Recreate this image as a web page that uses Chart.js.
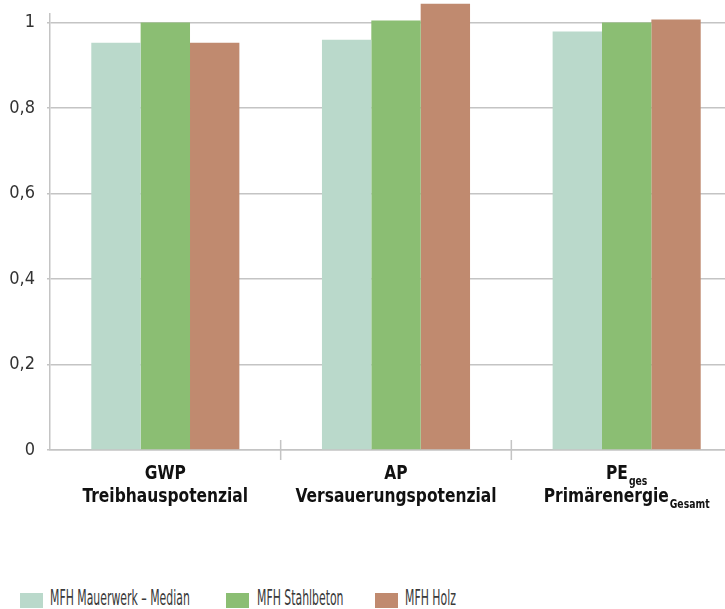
<!DOCTYPE html>
<html>
<head>
<meta charset="utf-8">
<script src="https://cdn.jsdelivr.net/npm/chart.js@4"></script>
<style>
  html, body { margin: 0; padding: 0; background: #fff; overflow: hidden; }
  #wrap { position: absolute; left: 0; top: 0; width: 745px; height: 540px; }
  #legend { position: absolute; left: 0; top: 587px; width: 725px; height: 22px;
            font-family: 'DejaVu Sans Condensed', sans-serif;
            font-size: 22px; color: #3a3a3a; }
  .box { position: absolute; top: 6px; width: 23px; height: 15px; }
  .txt { position: absolute; top: 0; transform-origin: left top; line-height: 22px; white-space: nowrap; }
</style>
</head>
<body>
<div id="wrap"><canvas id="chart"></canvas></div>
<div id="legend"></div>
<script>
// Kategorien (obere Zeile, Hauptzeile, Tiefstellungen)
const catTop = ['GWP', 'AP', 'PE'];
const catTopSub = ['', '', 'ges'];
const catBottom = ['Treibhauspotenzial', 'Versauerungspotenzial', 'Primärenergie'];
const catBottomSub = ['', '', 'Gesamt'];

const seriesNames = ['MFH Mauerwerk – Median', 'MFH Stahlbeton', 'MFH Holz'];
const seriesColors = ['#bad9cb', '#8bbe73', '#c08a6f'];

const mauerwerk = [0.953, 0.960, 0.979];
const stahlbeton = [1.0, 1.005, 1.0];
const holz = [0.953, 1.044, 1.007];

const yTicks = [0, 0.2, 0.4, 0.6, 0.8, 1];

const labelFont = "'DejaVu Sans Condensed', sans-serif";
const squeeze = 0.86;

// x-Beschriftung mit Tiefstellung + Trennstriche
const xLabels = {
    id: 'xLabels',
    afterDraw(chart) {
        const ctx = chart.ctx;
        const x = chart.scales.x;
        const bottom = chart.chartArea.bottom;
        ctx.save();
        ctx.strokeStyle = '#c4c4c4';
        ctx.lineWidth = 1.5;
        for (let i = 1; i < catTop.length; i++) {
            const px = (x.getPixelForValue(i - 1) + x.getPixelForValue(i)) / 2;
            ctx.beginPath();
            ctx.moveTo(px, bottom - 10);
            ctx.lineTo(px, bottom + 10);
            ctx.stroke();
        }
        ctx.fillStyle = '#111';
        ctx.textBaseline = 'alphabetic';
        ctx.textAlign = 'left';
        const drawLine = (main, sub, cx, y) => {
            ctx.font = 'bold 20px ' + labelFont;
            const w1 = ctx.measureText(main).width * squeeze;
            ctx.font = 'bold 12px ' + labelFont;
            const w2 = sub ? ctx.measureText(sub).width * squeeze + 1 : 0;
            const start = cx - (w1 + w2) / 2;
            ctx.save();
            ctx.translate(start, y);
            ctx.scale(squeeze, 1);
            ctx.font = 'bold 20px ' + labelFont;
            ctx.fillText(main, 0, 0);
            if (sub) {
                ctx.font = 'bold 12px ' + labelFont;
                ctx.fillText(sub, (w1 + 1) / squeeze, 6);
            }
            ctx.restore();
        };
        catTop.forEach((t, i) => {
            const cx = x.getPixelForValue(i);
            drawLine(t, catTopSub[i], cx, bottom + 29);
            drawLine(catBottom[i], catBottomSub[i], cx, bottom + 52);
        });
        ctx.restore();
    }
};

const ctx = document.getElementById('chart').getContext('2d');
new Chart(ctx, {
    type: 'bar',
    data: {
        labels: catTop,
        datasets: [mauerwerk, stahlbeton, holz].map((d, i) => ({
            label: seriesNames[i],
            data: d,
            backgroundColor: seriesColors[i],
            borderWidth: 0,
            categoryPercentage: 0.642,
            barPercentage: 1.0,
            clip: false
        }))
    },
    options: {
        responsive: true,
        maintainAspectRatio: false,
        animation: false,
        layout: { padding: { top: 14, right: 3, left: 0, bottom: 0 } },
        plugins: {
            legend: { display: false },
            tooltip: { enabled: false }
        },
        scales: {
            x: {
                grid: { display: false },
                border: { display: true, color: '#c4c4c4', width: 1.5 },
                ticks: { display: false },
                afterFit: s => { s.height = 90; s.paddingLeft = 0; s.paddingRight = 0; }
            },
            y: {
                min: 0,
                max: 1.02,
                afterFit: s => { s.width = 50; s.paddingTop = 0; s.paddingBottom = 0; },
                afterBuildTicks: s => { s.ticks = yTicks.map(v => ({ value: v })); },
                ticks: {
                    includeBounds: false,
                    padding: 12,
                    color: '#333',
                    font: { family: labelFont, size: 18 },
                    callback: v => String(Math.round(v * 10) / 10).replace('.', ',')
                },
                grid: { color: '#c4c4c4', lineWidth: 1.5, tickLength: 3 },
                border: { display: true, color: '#c4c4c4', width: 1.5 }
            }
        }
    },
    plugins: [xLabels]
});

// Legende
const legend = document.getElementById('legend');
const boxX = [20, 226, 375];
const txtX = [50, 257, 405];
seriesNames.forEach((n, i) => {
    const b = document.createElement('div');
    b.className = 'box';
    b.style.left = boxX[i] + 'px';
    b.style.background = seriesColors[i];
    legend.appendChild(b);
    const t = document.createElement('div');
    t.className = 'txt';
    t.style.left = txtX[i] + 'px';
    t.style.transform = 'scaleX(0.55)';
    t.textContent = n;
    legend.appendChild(t);
});
</script>
</body>
</html>
